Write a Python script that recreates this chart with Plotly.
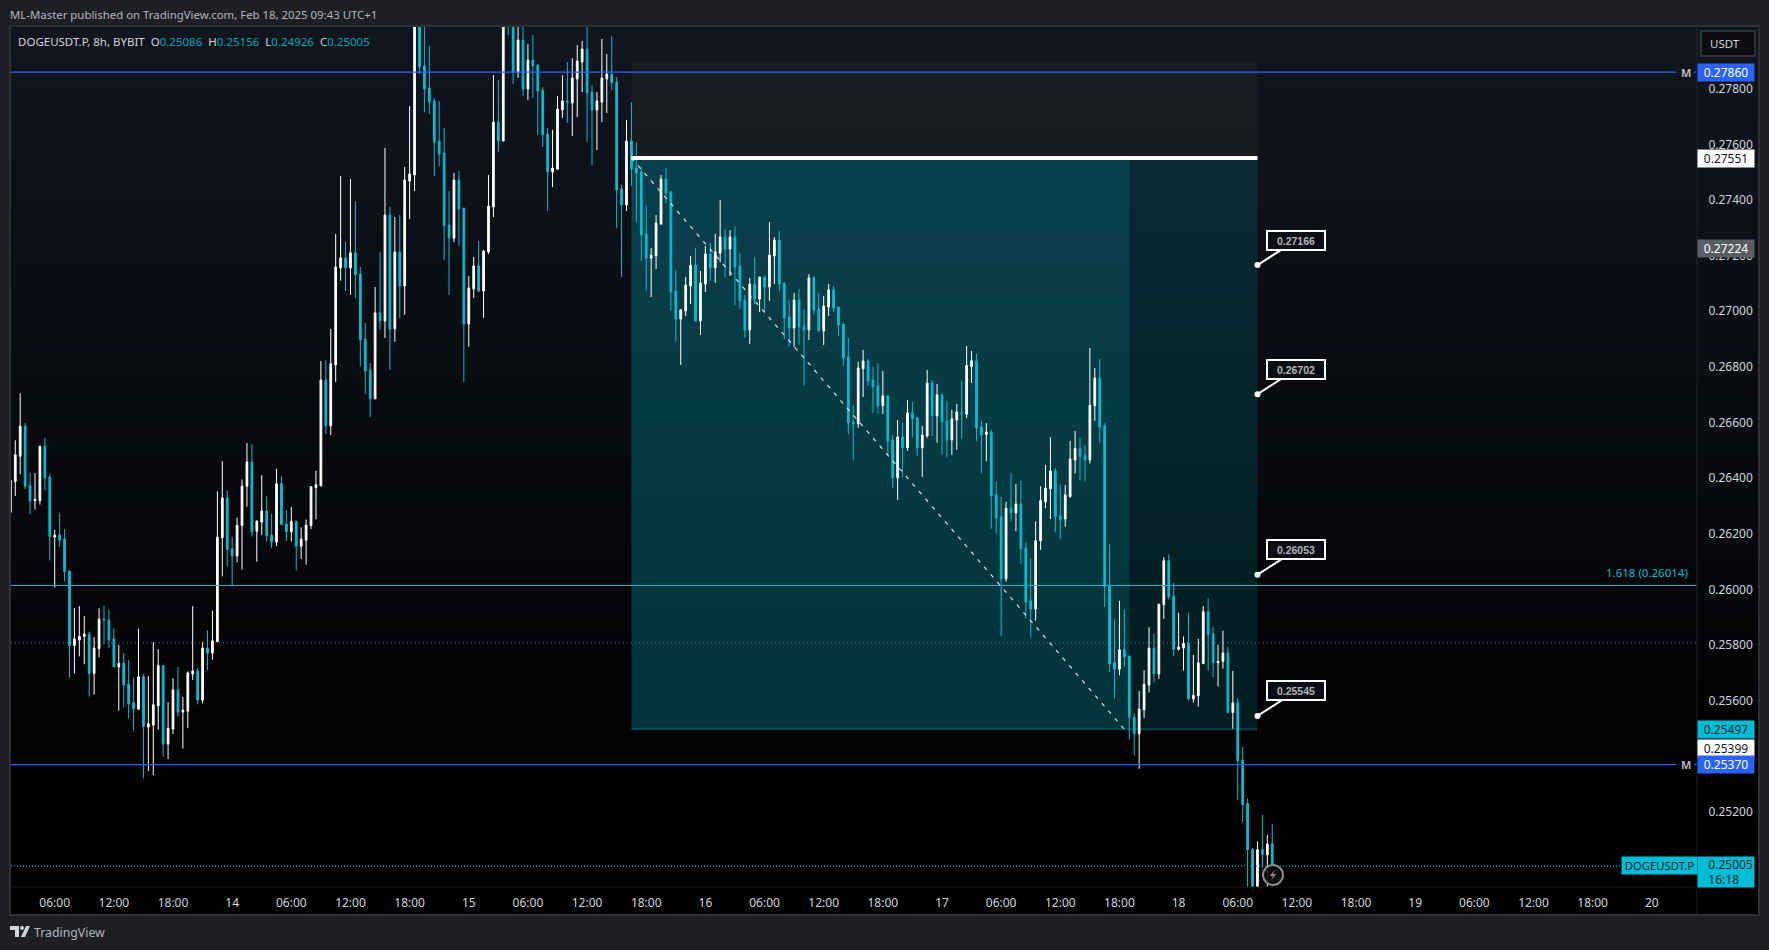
import pandas as pd
import plotly.graph_objects as go

PRICE_TICK = 0.00001
FIRST_BAR = "2025-02-13 01:30"
BAR_FREQ = "30min"

open_ticks = [
26277,26388,26479,26587,26374,26319,26319,26515,26404,26188,
26195,26181,26066,25798,25818,25831,25839,25698,25787,25893,
25890,25822,25721,25735,25660,25592,25569,25686,25505,25512,
25581,25726,25444,25498,25639,25559,25562,25696,25707,25602,
25789,25771,25812,26186,26329,26146,26120,26230,26371,26458,
26209,26242,26282,26195,26170,26380,26235,26207,26245,26155,
26177,26230,26366,26372,26753,26588,26807,27156,27192,27156,
27210,27134,26900,26789,26685,26994,26965,27346,26936,27213,
27091,27468,27490,28100,27882,27803,27756,27612,27569,27310,
27263,27472,27371,26954,27080,27163,27073,27213,27375,27680,
27612,28120,28050,27860,27975,27799,27903,27885,27795,27637,
27501,27511,27724,27756,27749,27835,27896,27943,27788,27724,
27752,27835,27853,27824,27440,27382,27612,27515,27501,27278,
27191,27199,27314,27475,27429,27073,26972,27001,27091,27166,
26965,27098,27206,27156,27209,27267,27224,27267,27163,27040,
26933,27098,27044,27123,27087,27199,27256,27102,26979,26940,
27041,26947,26933,27120,27008,26929,27015,27077,27015,26954,
26836,26602,26595,26793,26821,26753,26732,26660,26696,26537,
26401,26548,26509,26634,26617,26509,26552,26742,26624,26699,
26606,26537,26609,26635,26630,26801,26822,26584,26557,26566,
26340,26261,26038,26292,26275,26307,26149,25959,25929,26175,
26315,26362,26426,26264,26253,26334,26465,26506,26483,26465,
26661,26760,26588,26015,25736,25713,25783,25760,25540,25481,
25567,25656,25789,25696,25945,26103,25976,25785,25789,25806,
25606,25618,25733,25920,25840,25736,25741,25771,25557,25592,
25385,25230,25066,24900,25064,25045,25086]

high_ticks = [
26414,26536,26705,26599,26420,26418,26515,26545,26414,26214,
26273,26217,26069,25933,25940,25904,25848,25829,25932,25940,
25926,25860,25801,25771,25747,25683,25859,25696,25688,25810,
25785,25726,25595,25681,25721,25613,25705,25940,25717,25810,
25853,25923,26353,26461,26357,26188,26258,26395,26526,26522,
26249,26411,26336,26271,26434,26407,26285,26296,26245,26223,
26251,26371,26427,26821,26825,26936,27278,27486,27249,27476,
27396,27159,26958,26814,27087,27213,27587,27375,27339,27346,
27519,27738,28200,28200,28030,27954,27767,27756,27659,27432,
27497,27504,27371,27127,27195,27253,27220,27490,27849,27831,
28150,28200,28100,28023,28050,27961,27993,27889,27806,27659,
27652,27774,27849,27896,27910,27957,27972,28023,27813,27788,
27979,27925,27990,27842,27454,27688,27752,27607,27520,27382,
27227,27346,27490,27515,27432,27148,27008,27123,27199,27227,
27145,27235,27245,27278,27400,27296,27292,27306,27209,27058,
27120,27195,27123,27127,27321,27267,27289,27102,27040,27066,
27080,27008,27134,27127,27066,27055,27098,27091,27015,26954,
26904,26663,26818,26861,26829,26800,26811,26785,26696,26555,
26609,26599,26681,26674,26617,26588,26789,26753,26739,26706,
26678,26645,26667,26750,26875,26857,26848,26606,26598,26574,
26387,26333,26315,26419,26379,26391,26170,26113,26245,26371,
26448,26547,26436,26377,26375,26534,26570,26545,26519,26868,
26796,26828,26597,26163,25892,25959,25927,25760,25555,25635,
25710,25864,25841,25947,26116,26126,26023,25916,25831,25916,
25764,25822,25940,25968,25864,25801,25851,25792,25707,25609,
25434,25249,25070,25094,25189,25117,25156]

low_ticks = [
26277,26336,26414,26360,26270,26287,26305,26357,26104,26007,
26153,26029,25683,25698,25759,25731,25615,25622,25756,25803,
25789,25721,25564,25576,25536,25493,25569,25320,25346,25332,
25496,25399,25390,25480,25543,25428,25501,25674,25587,25590,
25709,25747,25812,26047,26082,26015,26097,26071,26298,26190,
26099,26195,26172,26148,26156,26231,26174,26172,26068,26109,
26089,26217,26252,26372,26559,26555,26746,27110,27073,27059,
27048,26803,26703,26620,26685,26933,26904,26789,26890,26976,
26987,27332,27432,27853,27716,27709,27486,27522,27184,27059,
27249,27235,26746,26872,27048,27069,26976,27206,27339,27573,
27612,27993,27817,27839,27774,27759,27767,27634,27591,27361,
27447,27511,27695,27677,27630,27698,27788,27609,27526,27580,
27680,27713,27795,27299,27123,27360,27450,27321,27181,27073,
27051,27152,27310,27389,27001,26890,26807,26983,27026,26965,
26915,27069,27109,27102,27177,27123,27127,27023,27008,26904,
26882,27026,26997,26994,27037,27098,27073,26900,26872,26872,
26880,26733,26897,26987,26929,26879,26983,26997,26911,26803,
26559,26466,26581,26692,26732,26634,26631,26631,26484,26365,
26322,26404,26498,26548,26480,26404,26545,26552,26527,26484,
26476,26484,26502,26541,26615,26742,26534,26417,26461,26218,
26200,25832,26028,26243,26209,26091,25896,25828,25887,26142,
26292,26253,26205,26181,26225,26329,26417,26391,26387,26452,
26606,26528,25937,25704,25609,25691,25721,25460,25401,25355,
25538,25629,25665,25678,25894,25963,25761,25780,25708,25602,
25593,25579,25733,25708,25685,25651,25715,25557,25499,25243,
25162,24900,24850,24870,24997,24930,24926]

close_ticks = [
26392,26484,26587,26371,26317,26324,26515,26400,26190,26195,
26177,26064,25798,25822,25831,25839,25698,25789,25893,25890,
25818,25721,25735,25656,25588,25571,25686,25507,25517,25585,
25726,25444,25501,25639,25559,25566,25700,25707,25602,25789,
25771,25815,26188,26329,26144,26120,26230,26371,26458,26207,
26245,26282,26193,26170,26380,26233,26207,26245,26155,26181,
26231,26369,26376,26753,26588,26811,27159,27192,27156,27210,
27131,26897,26785,26685,26994,26965,27346,26936,27213,27091,
27472,27494,28100,27878,27799,27752,27609,27565,27307,27263,
27472,27368,26954,27084,27163,27073,27217,27378,27680,27612,
28100,28030,27860,27975,27799,27903,27882,27792,27634,27501,
27515,27727,27756,27752,27839,27900,27943,27785,27724,27756,
27839,27853,27821,27436,27382,27612,27511,27497,27274,27191,
27202,27317,27475,27425,27069,26972,27005,27094,27166,26965,
27102,27206,27156,27213,27267,27224,27267,27159,27037,26933,
27098,27044,27123,27087,27202,27256,27098,26976,26940,27040,
26944,26933,27120,27005,26929,27019,27077,27012,26951,26832,
26599,26595,26796,26821,26749,26728,26660,26696,26534,26401,
26548,26509,26634,26613,26509,26555,26742,26624,26699,26602,
26537,26613,26638,26632,26805,26822,26580,26555,26566,26336,
26257,26038,26292,26275,26307,26146,25955,25929,26175,26319,
26364,26426,26261,26252,26340,26469,26507,26479,26465,26662,
26760,26584,26011,25733,25713,25783,25757,25540,25481,25570,
25659,25789,25696,25947,26103,25974,25785,25793,25806,25606,
25619,25736,25920,25838,25737,25741,25771,25557,25592,25384,
25226,25064,24900,25064,25047,25085,25005]

# time-axis labels
time_tick_dates = pd.date_range("2025-02-13 06:00", "2025-02-20 00:00", freq="6h")
time_tick_labels = [str(d.day) if d.hour == 0 else d.strftime("%H:%M") for d in time_tick_dates]
price_ticks = [0.252, 0.256, 0.258, 0.260, 0.262, 0.264, 0.266,
               0.268, 0.270, 0.272, 0.274, 0.276, 0.278]

# drawings
box_start, box_split, box_end = "2025-02-15 16:30", "2025-02-17 19:00", "2025-02-18 08:00"
box_top, entry_price, target_price = 0.27896, 0.27551, 0.25497
diag_end = "2025-02-17 18:30"
blue_levels = [0.27860, 0.25370]
fib_level, fib_label = 0.26014, "1.618 (0.26014)"
dotted_level = 0.25808
last_price = 0.25005
callout_prices = [0.27166, 0.26702, 0.26053, 0.25545]
tags = [(0.27860, "#2962ff", "#ffffff", 0), (0.27551, "#ffffff", "#131722", 0),
        (0.27224, "#5a5d63", "#ffffff", 0), (0.25497, "#00bcd4", "#0d2a33", 0),
        (0.25399, "#ffffff", "#131722", 8.5), (0.25370, "#2962ff", "#ffffff", 0)]

W, H = 1769, 950
L, R, T, B = 11, 1697, 27, 887
px = lambda x: (x - L) / (R - L)
py = lambda y: (B - y) / (B - T)
FONT = "Noto Sans"
TEAL = "#00bcd4"
times = pd.date_range(FIRST_BAR, periods=len(open_ticks), freq=BAR_FREQ)
scale = lambda a: [round(v * PRICE_TICK, 5) for v in a]

fig = go.Figure()
fig.add_trace(go.Candlestick(
    x=times, open=scale(open_ticks), high=scale(high_ticks), low=scale(low_ticks), close=scale(close_ticks),
    increasing=dict(line=dict(color="#ffffff", width=1), fillcolor="#ffffff"),
    decreasing=dict(line=dict(color=TEAL, width=1), fillcolor=TEAL),
    whiskerwidth=0, showlegend=False, hoverinfo="skip"))
fig.add_trace(go.Scatter(x=[box_end] * len(callout_prices), y=callout_prices, mode="markers",
                         marker=dict(color="#ffffff", size=6), showlegend=False, hoverinfo="skip"))

shapes = []
# panel background gradient
N = 60
y0, y1 = T, 914
for k in range(N):
    ya = y0 + (y1 - y0) * k / N
    yb = y0 + (y1 - y0) * (k + 1) / N + 0.5
    f = max(0.0, 1 - (ya - T) / 770)
    col = f"rgb({round(16*f)},{round(21*f)},{round(31*f)})"
    shapes.append(dict(type="rect", xref="paper", yref="paper", x0=px(L), x1=px(1758), y0=py(ya), y1=py(yb),
                       fillcolor=col, line_width=0, layer="below"))
# position box
shapes += [
    dict(type="rect", x0=box_start, x1=box_end, y0=entry_price, y1=box_top, fillcolor="rgba(235,235,170,0.045)", line_width=0, layer="below"),
    dict(type="rect", x0=box_start, x1=box_split, y0=target_price, y1=entry_price, fillcolor="rgba(0,188,212,0.27)", line_width=0, layer="below"),
    dict(type="rect", x0=box_split, x1=box_end, y0=target_price, y1=entry_price, fillcolor="rgba(0,188,212,0.14)", line_width=0, layer="below"),
    dict(type="line", x0=box_start, x1=box_end, y0=target_price, y1=target_price, line=dict(color="rgba(0,188,212,0.3)", width=2), layer="below"),
    dict(type="line", xref="paper", x0=0, x1=1, y0=dotted_level, y1=dotted_level, line=dict(color="rgba(170,170,170,0.6)", width=1, dash="1px 3px"), layer="below"),
    dict(type="line", xref="paper", x0=0, x1=px(1622), y0=last_price, y1=last_price, line=dict(color=TEAL, width=1.2, dash="1px 2px")),
    dict(type="line", xref="paper", x0=0, x1=1, y0=fib_level, y1=fib_level, line=dict(color=TEAL, width=1.1)),
    dict(type="line", x0=box_start, x1=box_end, y0=entry_price, y1=entry_price, line=dict(color="#ffffff", width=4)),
    dict(type="line", x0=box_start, x1=diag_end, y0=entry_price, y1=target_price, line=dict(color="rgba(255,255,255,0.85)", width=1.2, dash="4px 6px")),
]
for lv in blue_levels:
    shapes.append(dict(type="line", xref="paper", x0=0, x1=px(1676), y0=lv, y1=lv, line=dict(color="#2962ff", width=1.2)))
    shapes.append(dict(type="line", xref="paper", x0=px(1694), x1=1, y0=lv, y1=lv, line=dict(color="#2962ff", width=1.2)))
# panel separators and frame
pp = dict(xref="paper", yref="paper")
shapes += [
    dict(type="line", **pp, x0=1, x1=1, y0=py(T), y1=py(914), line=dict(color="#1f2229", width=1)),
    dict(type="line", **pp, x0=px(L), x1=px(1758), y0=py(B), y1=py(B), line=dict(color="#15171c", width=1)),
    dict(type="rect", **pp, x0=px(10), x1=px(1759), y0=py(26), y1=py(915), line=dict(color="#2e3036", width=2)),
    # USDT button
    dict(type="rect", **pp, x0=px(1701), x1=px(1755), y0=py(31), y1=py(56), fillcolor="#0b0d12", line=dict(color="#2e3036", width=2)),
    # replay marker
    dict(type="circle", **pp, x0=px(1263), x1=px(1283), y0=py(865), y1=py(885), fillcolor="rgba(12,12,12,0.92)", line=dict(color="#8a8a8a", width=2)),
    dict(type="path", **pp, path=f"M {px(1275)} {py(869)} L {px(1270)} {py(876)} L {px(1273)} {py(876)} L {px(1271)} {py(881)} L {px(1276)} {py(874)} L {px(1273)} {py(874)} Z",
         fillcolor="#8a8a8a", line_width=0),
    # TradingView mark
    dict(type="path", **pp, path=f"M {px(10)} {py(926)} L {px(19)} {py(926)} L {px(19)} {py(937)} L {px(15)} {py(937)} L {px(15)} {py(930)} L {px(10)} {py(930)} Z",
         fillcolor="#d1d4dc", line_width=0),
    dict(type="path", **pp, path=f"M {px(26)} {py(926)} L {px(30)} {py(926)} L {px(25)} {py(937)} L {px(21)} {py(937)} Z", fillcolor="#d1d4dc", line_width=0),
    dict(type="circle", **pp, x0=px(20), x1=px(24), y0=py(926), y1=py(930), fillcolor="#d1d4dc", line_width=0),
]

ann = []
def text(x, y, s, size=12, color="#d1d4dc", anchor="left", **kw):
    ann.append(dict(xref="paper", yref="paper", x=px(x), y=py(y), text=s, showarrow=False, xanchor=anchor, yanchor="middle",
                    font=dict(family=FONT, size=size, color=color), **kw))

text(8, 15, "ML-Master published on TradingView.com, Feb 18, 2025 09:43 UTC+1", size=11.4, color="#b2b5be")
v = '<span style="color:#00a5bb">%s</span>'
text(16, 41, "DOGEUSDT.P, 8h, BYBIT&nbsp;&nbsp;O" + v % "0.25086" + "&nbsp;&nbsp;H" + v % "0.25156" + "&nbsp;&nbsp;L" + v % "0.24926" + "&nbsp;&nbsp;C" + v % "0.25005", size=11.5)
text(32, 932, "TradingView", size=12.3, color="#b2b5be")
text(1725, 44, "USDT", size=11.5, anchor="center")
ann.append(dict(xref="paper", yref="y", x=px(1690), y=fib_level, yshift=13, text=fib_label, showarrow=False, xanchor="right",
                font=dict(family=FONT, size=11.5, color=TEAL)))
for lv in blue_levels:
    ann.append(dict(xref="paper", yref="y", x=px(1686), y=lv, text="<b>M</b>", showarrow=False, xanchor="center",
                    font=dict(family=FONT, size=11, color="#b2b5be")))
for price, bg, fg, shift in tags:
    ann.append(dict(xref="paper", yref="y", x=px(1726), y=price, yshift=shift, text=f"{price:.5f}", showarrow=False, xanchor="center",
                    width=54, height=15, bgcolor=bg, borderpad=1, font=dict(family=FONT, size=12, color=fg)))
text(1726, 872, f"&nbsp;&nbsp;&nbsp;{last_price:.5f}<br>&nbsp;&nbsp;&nbsp;16:18", size=12, color="#0d2a33", anchor="center", align="left", width=54, height=28, bgcolor=TEAL, borderpad=1)
text(1659.5, 865.5, "DOGEUSDT.P", size=11.3, color="#0d2a33", anchor="center", width=73, height=15, bgcolor=TEAL, borderpad=1)
for price in callout_prices:
    ann.append(dict(x=box_end, y=price, xref="x", yref="y", ax=39, ay=-25, text=f"<b>{price:.5f}</b>", showarrow=True,
                    arrowhead=0, arrowwidth=2, arrowcolor="#ffffff", standoff=0,
                    width=54, height=15, bgcolor="#0b0e14", bordercolor="#ffffff", borderwidth=2, borderpad=1,
                    font=dict(family="Liberation Sans", size=10.5, color="#b5b5b5")))

fig.update_layout(
    width=W, height=H, margin=dict(l=L, r=W - R, t=T, b=H - B), autosize=False,
    paper_bgcolor="#1e1f23", plot_bgcolor="rgba(0,0,0,0)", showlegend=False, hovermode=False,
    boxgap=0.5, shapes=shapes, annotations=ann,
    font=dict(family=FONT, color="#d1d4dc", size=12),
    xaxis=dict(type="date", range=["2025-02-13 01:34", "2025-02-20 04:35"], rangeslider=dict(visible=False),
               tickmode="array", tickvals=list(time_tick_dates), ticktext=time_tick_labels,
               showgrid=False, zeroline=False, showline=False, ticks="outside", ticklen=5, tickcolor="rgba(0,0,0,0)",
               tickangle=0, tickfont=dict(family=FONT, size=12, color="#d1d4dc")),
    yaxis=dict(side="right", range=[0.24930, 0.28022], tickmode="array", tickvals=price_ticks,
               ticktext=[f"{p:.5f}" for p in price_ticks], showgrid=False, zeroline=False, showline=False,
               ticks="outside", ticklen=8, tickcolor="rgba(0,0,0,0)", tickfont=dict(family=FONT, size=12, color="#d1d4dc")),
)
fig.write_html("out.html", config=dict(displayModeBar=False),
               post_script="document.body.style.margin='0';document.body.style.background='#1e1f23';document.body.style.overflow='hidden';")
